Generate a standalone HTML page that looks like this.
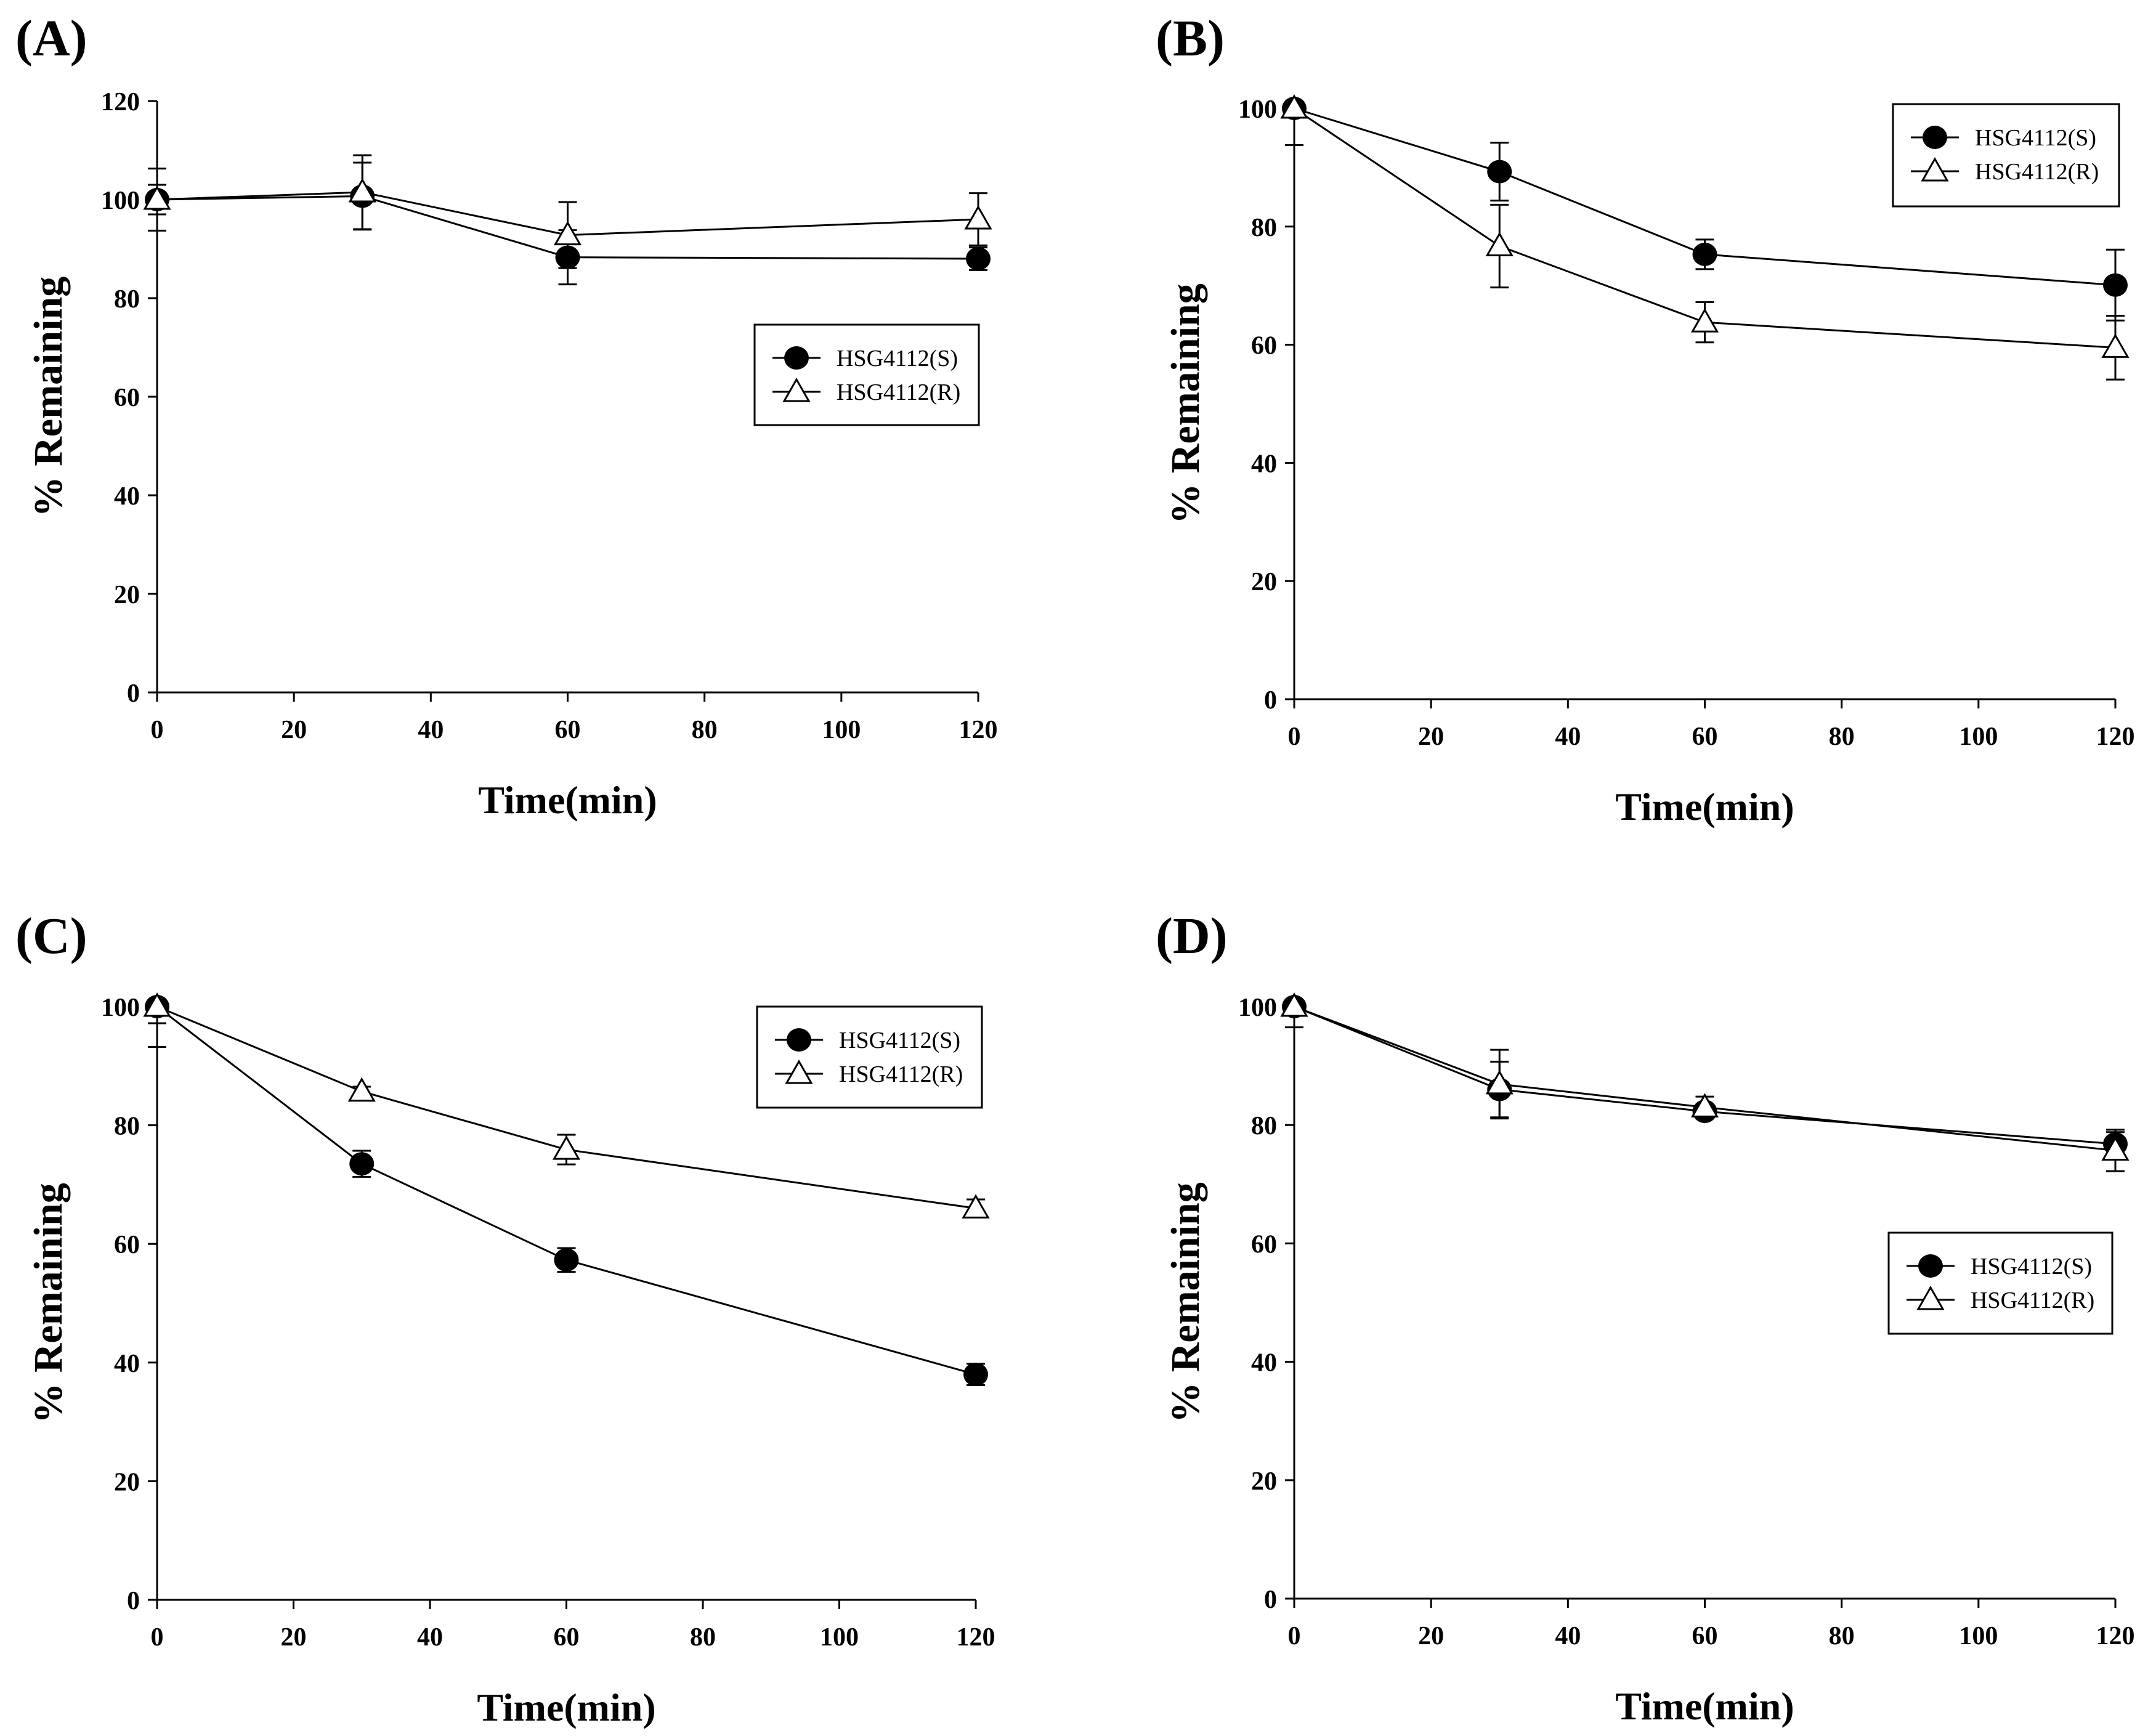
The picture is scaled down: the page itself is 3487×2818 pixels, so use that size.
<!DOCTYPE html>
<html><head><meta charset="utf-8"><style>
html,body{margin:0;padding:0;background:#fff;}
svg{display:block;font-family:"Liberation Serif",serif;}
</style></head><body>
<svg id="fig" width="3487" height="2818" viewBox="0 0 3487 2818" xmlns="http://www.w3.org/2000/svg"></svg>
<script>
const timePoints=[0,30,60,120];
const xTicks=[0,20,40,60,80,100,120];
const sA=[100,100.7,88.3,88], sAErr=[3,6.8,5.5,2.3];
const rA=[100,101.5,92.8,96], rAErr=[6.3,7.5,6.7,5.3];
const sB=[100,89.3,75.3,70.1], sBErr=[1,4.9,2.5,6];
const rB=[100,76.7,63.8,59.5], rBErr=[6.2,7,3.4,5.4];
const sC=[100,73.5,57.3,38], sCErr=[2.8,2.2,2,1.8];
const rC=[100,85.7,75.9,66], rCErr=[6.8,0.8,2.5,1.5];
const sD=[100,86,82.3,76.8], sDErr=[1,4.7,1,2];
const rD=[100,86.9,83,75.7], rDErr=[3.5,5.8,1.8,3.5];
const legendLabels=["HSG4112(S)","HSG4112(R)"];

const panels=[
 {id:"a",label:"(A)",lx:25,ly:90,x0:255,x1:1588,y0:1124,y1:164,ymax:120,zeroUpper:true,s:sA,se:sAErr,r:rA,re:rAErr,leg:[1225,527,364,163]},
 {id:"b",label:"(B)",lx:1876,ly:90,x0:2101,x1:3434,y0:1135,y1:176,ymax:100,zeroUpper:false,s:sB,se:sBErr,r:rB,re:rBErr,leg:[3073,169,367,166]},
 {id:"c",label:"(C)",lx:25,ly:1547,x0:255,x1:1584,y0:2597,y1:1634,ymax:100,zeroUpper:false,s:sC,se:sCErr,r:rC,re:rCErr,leg:[1229,1634,365,164]},
 {id:"d",label:"(D)",lx:1876,ly:1547,x0:2101,x1:3434,y0:2595,y1:1634,ymax:100,zeroUpper:false,s:sD,se:sDErr,r:rD,re:rDErr,leg:[3066,2001,363,164]}
];
const NS="http://www.w3.org/2000/svg";
const svg=document.getElementById('fig');
function mk(tag,attrs,parent,text){const e=document.createElementNS(NS,tag);for(const k in attrs)e.setAttribute(k,attrs[k]);if(text!==undefined)e.textContent=text;parent.appendChild(e);return e;}

panels.forEach(p=>{
 const g=mk('g',{},svg);
 
 
 const xs=v=>p.x0+(v/120)*(p.x1-p.x0);
 const yHundred=p.ymax===120?(p.y0-(p.y0-p.y1)*100/120):p.y1;
 const ys=v=>p.y0-(v/100)*(p.y0-yHundred);
 const lab=mk('text',{x:p.lx,y:p.ly,'font-size':84,'font-weight':'bold'},g,p.label);
 
 
 const ax=mk('path',{d:`M${p.x0},${ys(p.ymax)}V${p.y0}H${p.x1}`,stroke:'#000','stroke-width':3,fill:'none'},g);
 
 
 xTicks.forEach(t=>{
  mk('line',{x1:xs(t),x2:xs(t),y1:p.y0,y2:p.y0+15,stroke:'#000','stroke-width':3},g);
  const tl=mk('text',{x:xs(t),y:p.y0+74,'font-size':42,'font-weight':'bold','text-anchor':'middle'},g,String(t));
  
  
 });
 for(let t=0;t<=p.ymax;t+=20){
  mk('line',{x1:p.x0-15,x2:p.x0,y1:ys(t),y2:ys(t),stroke:'#000','stroke-width':3},g);
  const tl=mk('text',{x:p.x0-28,y:ys(t)+15,'font-size':42,'font-weight':'bold','text-anchor':'end'},g,String(t));
  
  
 }
 const xt=mk('text',{x:(p.x0+p.x1)/2,y:p.y0+196,'font-size':64,'font-weight':'bold','text-anchor':'middle'},g,'Time(min)');
 
 
 const cy=(p.y0+ys(p.ymax))/2, cx=p.x0-155;
 const yt=mk('text',{x:cx,y:cy,'font-size':66,'font-weight':'bold','text-anchor':'middle',transform:`rotate(-90 ${cx} ${cy})`},g,'% Remaining');
 
 
 [[p.s,p.se,'s'],[p.r,p.re,'r']].forEach(([vals,errs,k])=>{
  errs.forEach((e,i)=>{
   const x=xs(timePoints[i]);
   const up=(i===0&&!p.zeroUpper)?0:e;
   const eb=mk('path',{d:`M${x},${ys(vals[i]-e)}V${ys(vals[i]+up)}M${x-15},${ys(vals[i]-e)}h30`+(up?`M${x-15},${ys(vals[i]+up)}h30`:''),stroke:'#000','stroke-width':3,fill:'none'},g);
   
   
  });
 });
 [[p.s,'s'],[p.r,'r']].forEach(([vals,k])=>{
  const pts=vals.map((v,i)=>xs(timePoints[i])+','+ys(v)).join(' ');
  const ln=mk('polyline',{points:pts,stroke:'#000','stroke-width':3,fill:'none'},g);
  
  
 });
 p.s.forEach((v,i)=>{
  const c=mk('ellipse',{cx:xs(timePoints[i]),cy:ys(v),rx:20,ry:19,fill:'#000'},g);
  
  
 });
 p.r.forEach((v,i)=>{
  const x=xs(timePoints[i]),y=ys(v);
  const t=mk('polygon',{points:`${x},${y-20} ${x-20},${y+15} ${x+20},${y+15}`,fill:'#fff',stroke:'#000','stroke-width':3},g);
  
  
 });
 const [bx,by,bw,bh]=p.leg;
 const lg=mk('g',{},g);
 
 
 mk('rect',{x:bx,y:by,width:bw,height:bh,fill:'#fff',stroke:'#000','stroke-width':3},lg);
 legendLabels.forEach((lbl,j)=>{
  const ry=by+54+j*55;
  const le=mk('g',{},lg);
  
  
  mk('line',{x1:bx+29,x2:bx+107,y1:ry,y2:ry,stroke:'#000','stroke-width':3},le);
  if(j===0) mk('ellipse',{cx:bx+68,cy:ry,rx:20,ry:19,fill:'#000'},le);
  else mk('polygon',{points:`${bx+68},${ry-20} ${bx+48},${ry+15} ${bx+88},${ry+15}`,fill:'#fff',stroke:'#000','stroke-width':3},le);
  mk('text',{x:bx+133,y:ry+13,'font-size':38},le,lbl);
 });
});
</script>
</body></html>
